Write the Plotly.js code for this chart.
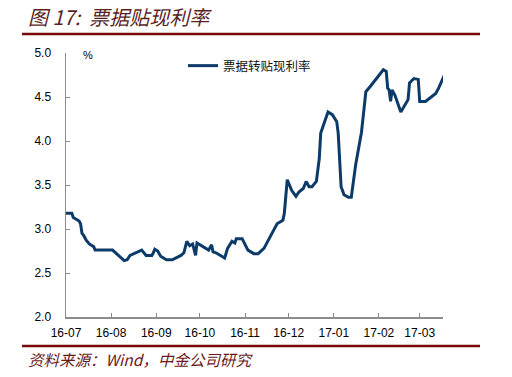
<!DOCTYPE html>
<html>
<head>
<meta charset="utf-8">
<script src="https://cdn.plot.ly/plotly-3.0.1.min.js"></script>
<style>html,body{margin:0;padding:0;background:#fff;}#chart{width:512px;height:377px;}</style>
</head>
<body>
<div id="chart"></div>
<script>
const seriesName = "票据转贴现利率";
const dates = [
"2016-07-01","2016-07-05","2016-07-06","2016-07-10","2016-07-11","2016-07-12","2016-07-13","2016-07-15","2016-07-17","2016-07-19","2016-07-20","2016-07-21",
"2016-08-02","2016-08-10","2016-08-12","2016-08-14","2016-08-17","2016-08-22","2016-08-25","2016-08-29","2016-08-30","2016-08-31",
"2016-09-02","2016-09-04","2016-09-08","2016-09-12","2016-09-18","2016-09-20","2016-09-22","2016-09-24","2016-09-26","2016-09-28","2016-09-29",
"2016-10-03","2016-10-07","2016-10-09","2016-10-10","2016-10-12","2016-10-16","2016-10-18","2016-10-20","2016-10-23","2016-10-25","2016-10-26","2016-10-30",
"2016-11-01","2016-11-03","2016-11-07","2016-11-10","2016-11-14","2016-11-16","2016-11-20","2016-11-23","2016-11-27","2016-11-28","2016-11-30",
"2016-12-03","2016-12-06","2016-12-08","2016-12-11","2016-12-13","2016-12-15","2016-12-17","2016-12-20","2016-12-22","2016-12-23","2016-12-25","2016-12-28","2016-12-31",
"2017-01-03","2017-01-04","2017-01-05","2017-01-06","2017-01-08","2017-01-11","2017-01-13","2017-01-16","2017-01-20","2017-01-23","2017-01-26","2017-01-30",
"2017-02-04","2017-02-06","2017-02-07","2017-02-08","2017-02-09","2017-02-10","2017-02-12","2017-02-16","2017-02-19","2017-02-21","2017-02-22","2017-02-25","2017-02-28",
"2017-03-01","2017-03-05","2017-03-09","2017-03-12","2017-03-14","2017-03-18"
];
const rates = [
3.18,3.18,3.13,3.09,3.06,2.95,2.93,2.87,2.83,2.81,2.80,2.76,
2.76,2.64,2.65,2.70,2.72,2.76,2.70,2.70,2.73,2.77,
2.75,2.69,2.65,2.65,2.70,2.73,2.86,2.81,2.83,2.70,2.84,
2.80,2.76,2.82,2.74,2.73,2.69,2.67,2.78,2.86,2.84,2.89,2.89,
2.82,2.76,2.72,2.72,2.78,2.84,2.97,3.06,3.10,3.18,3.56,
3.44,3.37,3.42,3.46,3.54,3.48,3.48,3.54,3.80,4.09,4.18,4.33,4.30,
4.22,4.09,3.71,3.48,3.39,3.36,3.36,3.73,4.10,4.56,4.62,4.71,
4.81,4.79,4.60,4.58,4.45,4.58,4.52,4.33,4.41,4.47,4.66,4.71,4.70,
4.45,4.45,4.50,4.54,4.60,4.75
];
const titleText = "图 17:  票据贴现利率";
const sourceText = "资料来源：Wind，中金公司研究";
const unitText = "%";

// plot area geometry (pixels)
const L = 66, R = 443, T = 53, B = 317;
const W = R - L, H = B - T;
const px = x => (x - L) / W;
const py = y => (B - y) / H;

const trace = {
  x: dates, y: rates, type: "scatter", mode: "lines", name: seriesName,
  line: {color: "#0d3b69", width: 3}
};
const grey = "#8c8c8c";
const layout = {
  width: 512, height: 377,
  margin: {l: L, r: 512 - R, t: T, b: 377 - B, pad: 0},
  paper_bgcolor: "#fff", plot_bgcolor: "#fff",
  font: {family: "Liberation Sans, Arial, sans-serif", size: 12, color: "#000"},
  showlegend: true,
  legend: {x: px(183), y: py(51), xanchor: "left", yanchor: "top", bgcolor: "rgba(0,0,0,0)",
    font: {family: "Noto Sans CJK SC", size: 12.5, color: "#111"}, itemwidth: 30},
  xaxis: {
    type: "date", range: ["2016-07-01", "2017-03-17"],
    tick0: "2016-07-01", dtick: "M1", tickformat: "%y-%m",
    ticks: "inside", ticklen: 4, tickcolor: grey, showgrid: false, zeroline: false,
    showline: true, linecolor: grey, linewidth: 1.5, tickfont: {size: 12, color: "#000"},
    ticklabelstandoff: 4
  },
  yaxis: {
    range: [2, 5], dtick: 0.5, tickformat: ".1f",
    ticks: "inside", ticklen: 4, tickcolor: grey, showgrid: false, zeroline: false,
    showline: true, linecolor: grey, linewidth: 1.5, tickfont: {size: 12, color: "#000"},
    ticklabelstandoff: 11
  },
  shapes: [
    {type: "line", xref: "paper", yref: "paper", x0: px(22), x1: px(480), y0: py(34), y1: py(34), line: {color: "#7a0a0a", width: 2.5}},
    {type: "line", xref: "paper", yref: "paper", x0: px(22), x1: px(480), y0: py(346), y1: py(346), line: {color: "#7a0a0a", width: 2.5}}
  ],
  annotations: [
    {text: "<i>" + titleText + "</i>", xref: "paper", yref: "paper", x: px(26), y: py(17), xanchor: "left", yanchor: "middle", showarrow: false,
      font: {family: "Noto Sans CJK SC", size: 20, color: "#5a1f1f"}},
    {text: "<i>" + sourceText + "</i>", xref: "paper", yref: "paper", x: px(26), y: py(359), xanchor: "left", yanchor: "middle", showarrow: false,
      font: {family: "Noto Sans CJK SC", size: 15.5, color: "#6b1a1a"}},
    {text: unitText, xref: "paper", yref: "paper", x: px(88), y: py(55), xanchor: "center", yanchor: "middle", showarrow: false,
      font: {size: 11, color: "#000"}}
  ]
};
Plotly.newPlot("chart", [trace], layout, {staticPlot: true, displayModeBar: false});
</script>
</body>
</html>
